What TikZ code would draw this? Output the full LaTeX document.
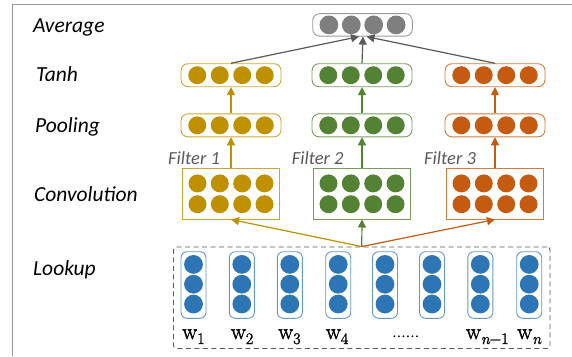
\documentclass[tikz,border=0pt]{standalone}
\usepackage{fontspec}
\setmainfont{Carlito}
\newfontfamily\wfont[FakeBold=1.6,ItalicFeatures={FakeBold=1.6}]{Latin Modern Roman}
\usetikzlibrary{arrows.meta}

\definecolor{goldc}{HTML}{BF9000}
\definecolor{greenc}{HTML}{548235}
\definecolor{orangec}{HTML}{C55A11}
\definecolor{bluec}{HTML}{2E75B6}
\definecolor{grayc}{HTML}{7F7F7F}
\definecolor{arrowgray}{HTML}{595959}
\definecolor{framegray}{HTML}{999999}

% word symbol with a lowered subscript
\newcommand{\wsym}[1]{w\raisebox{-5pt}{\fontsize{16}{18}\selectfont #1}}

\tikzset{
  lbl/.style={font=\fontsize{21.5}{24}\selectfont\itshape, anchor=base west, inner sep=0pt},
  flt/.style={font=\fontsize{18.5}{22}\selectfont\itshape, text=arrowgray, anchor=base west, inner sep=0pt},
  wlbl/.style={font=\fontsize{22.5}{26}\selectfont\wfont, anchor=base west, inner sep=0pt},
  vecbox/.style={draw=#1!80!white, rounded corners=7pt, minimum width=100pt,
    minimum height=23pt, line width=0.9pt, inner sep=0pt},
  convbox/.style={draw=#1!80!white, minimum width=97pt, minimum height=50.7pt,
    line width=0.9pt, inner sep=0pt},
  wordbox/.style={draw=bluec!75!white, rounded corners=6pt, minimum width=25pt,
    minimum height=66.6pt, line width=0.9pt, inner sep=0pt},
  arr/.style={draw=#1, line width=1.2pt, -{Triangle[length=8pt,width=8pt]}},
}

\begin{document}
\begin{tikzpicture}[x=1pt,y=-1pt]
\useasboundingbox (0,0) rectangle (572,356);

% frame
\draw[framegray, line width=1pt] (12.7,356) -- (12.7,4.3) -- (572,4.3);

% layer names
\node[lbl] (lavg)  at (33,32)    {Average};
\node[lbl] (ltanh) at (36,81)    {Tanh};
\node[lbl] (lpool) at (35,132)   {Pooling};
\node[lbl] (lconv) at (34,201.5) {Convolution};
\node[lbl] (llook) at (33,275)   {Lookup};

% average vector
\node[vecbox=grayc, minimum width=99.6pt, minimum height=22.5pt] (avg) at (362.5,24.9) {};
\foreach \dx in {-33.6,-11.2,11.2,33.6}
  \fill[grayc] (362.5+\dx,24.9) circle[radius=9.4pt];

% tanh, pooling and convolution for the three filters
\foreach \c/\x/\n in {goldc/231/1, greenc/362/2, orangec/495/3}{
  \node[vecbox=\c] (t\n) at (\x,75.2) {};
  \node[vecbox=\c] (p\n) at (\x,125.3) {};
  \node[convbox=\c] (c\n) at (\x,193.7) {};
  \foreach \dx in {-33.75,-11.25,11.25,33.75}{
    \fill[\c] (\x+\dx,75.2) circle[radius=9pt];
    \fill[\c] (\x+\dx,125.3) circle[radius=9pt];
  }
  \foreach \dx in {-33.5,-11.2,11.2,33.5}{
    \fill[\c] (\x+\dx,183.4) circle[radius=9pt];
    \fill[\c] (\x+\dx,204.2) circle[radius=9pt];
  }
  \draw[arr=\c] (p\n.north) -- (t\n.south);
  \draw[arr=\c] (c\n.north) -- (p\n.south);
}

% filter names
\node[flt] (f1) at (168,164)   {Filter 1};
\node[flt] (f2) at (291.7,164) {Filter 2};
\node[flt] (f3) at (424,164)   {Filter 3};

% lookup layer
\node[draw=arrowgray, dashed, dash pattern=on 5pt off 3.5pt, rounded corners=3pt,
  line width=0.9pt, minimum width=376.5pt, minimum height=101.5pt, inner sep=0pt]
  (look) at (361.75,297.75) {};
\foreach \x [count=\i] in {193.5,241.8,289.8,338.2,385,432,480.3,529.2}{
  \node[wordbox] (w\i) at (\x,285) {};
  \foreach \y in {264.4,284.2,304}
    \fill[bluec] (\x,\y) circle[radius=9.4pt];
}
\node[wlbl] (lw1) at (182,339)   {\wsym{1}};
\node[wlbl] (lw2) at (230.7,339) {\wsym{2}};
\node[wlbl] (lw3) at (278,339)   {\wsym{3}};
\node[wlbl] (lw4) at (325.7,339) {\wsym{4}};
\node[wlbl, font=\fontsize{18}{20}\selectfont\wfont] (ldots) at (392,337) {......};
\node[wlbl] (lwm) at (465.7,339) {\wsym{\itshape n\upshape\char"2212 1}};
\node[wlbl] (lwn) at (517,339)   {\wsym{\itshape n}};

% lookup to convolution
\draw[arr=goldc] (look.north) -- (c1.south);
\draw[arr=greenc] (look.north) -- (c2.south);
\draw[arr=orangec] (look.north) -- (c3.south);

% tanh to average
\draw[arr=arrowgray] (t1.north) -- ([xshift=-3.5pt]avg.south);
\draw[arr=arrowgray] (t2.north) -- ([xshift=0.5pt]avg.south);
\draw[arr=arrowgray] (t3.north) -- ([xshift=4pt]avg.south);
\end{tikzpicture}
\end{document}
